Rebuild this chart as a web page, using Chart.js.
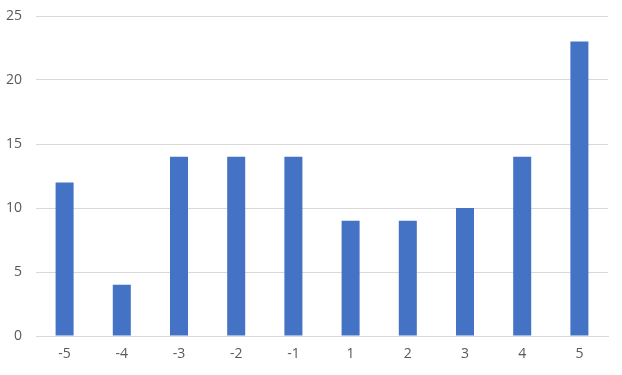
<!DOCTYPE html>
<html>
<head>
<meta charset="utf-8">
<script src="https://cdn.jsdelivr.net/npm/chart.js@4"></script>
<style>
  html, body { margin: 0; padding: 0; background: #ffffff; }
  #wrap { width: 622px; height: 375px; }
</style>
</head>
<body>
<div id="wrap"><canvas id="chart" width="622" height="375"></canvas></div>
<script>
// Category labels along the bottom axis
const categories = ['-5', '-4', '-3', '-2', '-1', '1', '2', '3', '4', '5'];
// Bar heights
const counts = [12, 4, 14, 14, 14, 9, 9, 10, 14, 23];
// Value axis ticks
const yTicks = [0, 5, 10, 15, 20, 25];

const textColor = '#595959';
const gridColor = '#d9d9d9';
const font = { family: '"Open Sans", "Noto Sans", sans-serif', size: 14 };

new Chart(document.getElementById('chart'), {
  type: 'bar',
  data: {
    labels: categories,
    datasets: [{
      data: counts,
      backgroundColor: '#4472C4',
      borderWidth: 0,
      categoryPercentage: 1.0,
      barPercentage: 0.315
    }]
  },
  options: {
    responsive: false,
    animation: false,
    layout: { padding: { top: 16, right: 14, left: 0, bottom: 0 } },
    plugins: { legend: { display: false }, tooltip: { enabled: false } },
    scales: {
      x: {
        grid: { display: false, drawTicks: false },
        border: { display: true, color: gridColor, width: 1 },
        ticks: { color: textColor, font: font, padding: 10, maxRotation: 0 },
        afterFit(scale) { scale.height = 39; scale.paddingLeft = 0; scale.paddingRight = 0; }
      },
      y: {
        min: yTicks[0],
        max: yTicks[yTicks.length - 1],
        afterBuildTicks(scale) { scale.ticks = yTicks.map(v => ({ value: v })); },
        grid: { color: gridColor, lineWidth: 1, drawTicks: false },
        border: { display: false },
        ticks: { color: textColor, font: font, padding: 14 },
        afterFit(scale) { scale.width = 36; scale.paddingTop = 0; scale.paddingBottom = 0; }
      }
    }
  }
});
</script>
</body>
</html>
